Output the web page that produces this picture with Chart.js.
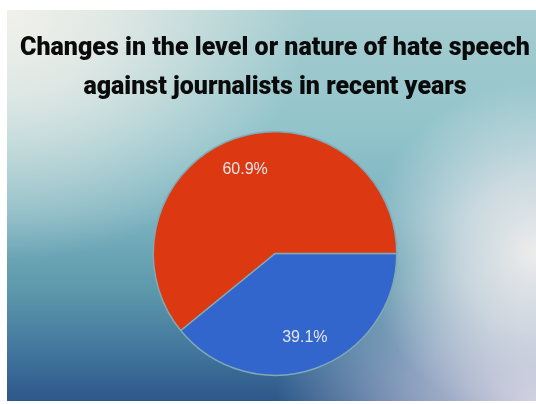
<!DOCTYPE html>
<html>
<head>
<meta charset="utf-8">
<script src="https://cdn.jsdelivr.net/npm/chart.js@4.4.1/dist/chart.umd.min.js"></script>
<style>
  html, body { margin: 0; padding: 0; background: #ffffff; }
  body { width: 536px; height: 404px; position: relative; overflow: hidden; }
  #panel {
    position: absolute; left: 7px; top: 10px; width: 529px; height: 391px;
    background:
      radial-gradient(ellipse 300px 250px at 0% 0%, rgba(242,241,235,1) 0%, rgba(238,239,234,0.8) 35%, rgba(230,236,232,0) 100%),
      radial-gradient(ellipse 170px 170px at 100% 62%, rgba(238,236,236,1) 0%, rgba(232,232,236,0.7) 45%, rgba(232,232,236,0) 100%),
      radial-gradient(ellipse 260px 160px at 100% 100%, rgba(206,204,222,1) 0%, rgba(196,200,220,0.6) 50%, rgba(196,200,220,0) 100%),
      linear-gradient(to bottom, #a6cdd0 0%, #92c4cb 30%, #7cb3c0 52%, #5c98ab 72%, #41749c 88%, #2d5789 100%);
  }
</style>
</head>
<body>
<div id="panel"><canvas id="pieChart"></canvas></div>
<script>
const categories = ["Yes", "No"];
const shares = [39.1, 60.9];
const sliceColors = ["#3366cc", "#dc3912"];
const titleLines = ["Changes in the level or nature of hate speech", "against journalists in recent years"];

// percentage text inside each slice, placed along its middle angle
const sliceLabels = {
    id: "sliceLabels",
    afterDatasetsDraw(chart) {
        const ctx = chart.ctx;
        const arcs = chart.getDatasetMeta(0).data;
        ctx.save();
        ctx.font = "16px 'Liberation Sans', Arial, sans-serif";
        ctx.fillStyle = "#e4e6ea";
        ctx.textAlign = "center";
        ctx.textBaseline = "middle";
        arcs.forEach(function(arc, i) {
            const p = arc.getProps(["x", "y", "startAngle", "endAngle", "outerRadius"], true);
            const mid = (p.startAngle + p.endAngle) / 2;
            const r = p.outerRadius * 0.73;
            ctx.fillText(shares[i].toFixed(1) + "%", p.x + Math.cos(mid) * r, p.y + Math.sin(mid) * r);
        });
        ctx.restore();
    }
};

const ctx = document.getElementById("pieChart").getContext("2d");

const pieChart = new Chart(ctx, {
    type: "pie",
    data: {
        labels: categories,
        datasets: [{
            data: shares,
            backgroundColor: sliceColors,
            borderColor: "#7fa9b4",
            borderWidth: 1.5
        }]
    },
    options: {
        responsive: true,
        maintainAspectRatio: false,
        animation: false,
        rotation: 90,
        layout: { padding: { left: 7, right: 0, top: 0, bottom: 25 } },
        plugins: {
            legend: { display: false },
            tooltip: { enabled: false },
            title: {
                display: true,
                text: titleLines,
                color: "#0a0a0a",
                font: { family: "Roboto", weight: "900", size: 25, lineHeight: 1.56 },
                padding: { top: 19, bottom: 24 }
            }
        }
    },
    plugins: [sliceLabels]
});
</script>
</body>
</html>
